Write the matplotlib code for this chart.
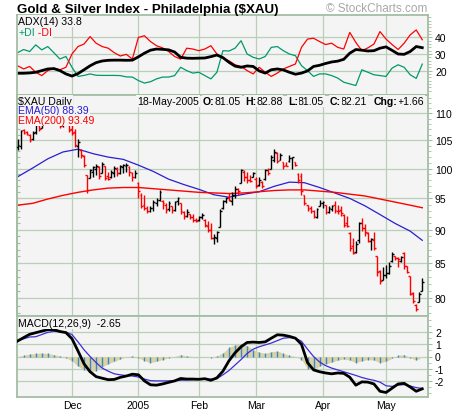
import numpy as np
import matplotlib
matplotlib.use("Agg")
import matplotlib.pyplot as plt
from matplotlib.ticker import FixedLocator, FixedFormatter, NullFormatter

plt.rcParams['font.family'] = ['Liberation Sans', 'DejaVu Sans']
plt.rcParams['axes.unicode_minus'] = False

# ---- daily bars, $XAU, Nov 2004 .. 18 May 2005 (one entry per trading day)
opens = [103.8, 104.0, 106.8, 106.5, 106.0, 105.2, 106.5, 107.8, 107.3, 108.8,
         108.4, 109.5, 109.2, 108.5, 108.6, 107.7, 108.4, 107.9, 107.0, 106.5,
         104.0, 103.3, 102.2, 98.9, 98.4, 99.5, 100.0, 100.2, 99.2, 100.4,
         98.8, 98.5, 99.3, 100.0, 99.2, 100.2, 100.4, 100.3, 99.2, 98.6,
         97.5, 95.6, 94.0, 93.5, 93.0, 93.4, 94.3, 94.8, 94.6, 94.0,
         93.3, 93.8, 93.2, 94.5, 94.2, 92.8, 92.2, 92.5, 92.0, 91.6,
         91.5, 92.0, 91.6, 90.6, 89.9, 88.8, 88.8, 90.4, 93.5, 94.5,
         95.2, 94.6, 95.5, 96.5, 97.6, 99.5, 98.5, 98.1, 98.6, 98.3,
         97.3, 97.8, 98.2, 99.8, 99.9, 101.5, 102.8, 101.5, 101.1, 100.6,
         101.3, 101.8, 101.1, 99.0, 98.8, 95.5, 93.9, 93.5, 93.0, 92.0,
         93.8, 94.3, 94.0, 92.8, 93.3, 94.0, 93.0, 93.2, 92.3, 91.0,
         89.5, 87.5, 86.6, 88.5, 91.0, 90.3, 89.5, 88.3, 88.5, 86.0,
         83.8, 82.6, 83.3, 83.6, 85.3, 86.0, 85.7, 85.3, 86.5, 84.5,
         83.2, 80.8, 79.1, 79.5, 81.05]
highs = [105.3, 106.9, 107.1, 106.6, 106.1, 106.6, 108.2, 107.9, 109.0, 109.5,
         109.8, 110.0, 109.6, 109.3, 108.8, 109.0, 108.9, 108.0, 107.7, 107.1,
         105.2, 103.4, 102.4, 98.9, 100.0, 100.5, 100.8, 100.4, 101.2, 100.5,
         99.4, 99.8, 100.4, 100.2, 100.6, 100.8, 101.0, 100.5, 99.5, 99.7,
         97.8, 95.9, 95.6, 93.8, 93.7, 94.7, 95.1, 96.4, 94.8, 94.3,
         94.6, 93.8, 94.6, 95.3, 94.3, 93.0, 93.3, 92.5, 92.5, 91.9,
         92.2, 92.7, 91.7, 91.4, 91.0, 89.4, 89.8, 93.3, 94.8, 95.3,
         95.9, 96.0, 97.0, 96.7, 100.0, 99.7, 99.4, 98.9, 99.4, 98.5,
         98.6, 97.9, 100.0, 100.1, 102.4, 103.5, 102.9, 102.7, 101.2, 101.2,
         102.4, 102.1, 101.2, 99.2, 99.2, 95.6, 94.0, 93.8, 93.2, 93.5,
         94.8, 94.6, 94.0, 93.8, 94.0, 94.6, 94.0, 93.8, 92.5, 92.2,
         89.6, 88.8, 88.3, 91.2, 91.8, 90.9, 89.6, 88.8, 89.6, 86.0,
         84.0, 84.4, 84.7, 85.2, 86.6, 86.1, 85.9, 86.0, 86.6, 84.6,
         83.2, 80.9, 79.2, 80.9, 82.88]
lows = [103.3, 103.5, 106.1, 106.0, 104.6, 105.0, 106.2, 106.7, 107.2, 108.0,
        108.3, 108.7, 108.2, 108.0, 107.2, 107.5, 107.8, 106.5, 106.0, 103.8,
        102.0, 101.8, 100.2, 95.9, 98.4, 98.6, 98.9, 98.2, 99.2, 98.0,
        98.0, 98.4, 98.6, 98.8, 99.0, 99.3, 99.5, 98.8, 97.9, 98.4,
        95.1, 93.5, 93.2, 92.7, 92.8, 92.9, 93.8, 94.6, 93.3, 92.7,
        93.0, 92.7, 93.0, 94.0, 92.5, 91.7, 92.0, 91.7, 91.2, 91.2,
        91.4, 91.7, 90.4, 89.6, 88.6, 87.8, 88.1, 90.4, 93.3, 94.3,
        94.6, 93.9, 95.1, 95.6, 97.6, 97.9, 97.6, 97.7, 98.5, 96.7,
        97.1, 96.7, 98.1, 98.9, 99.9, 101.2, 101.0, 101.5, 99.9, 100.4,
        101.2, 100.0, 100.4, 97.6, 95.6, 94.0, 93.0, 92.7, 91.9, 91.9,
        93.7, 93.5, 92.5, 92.7, 93.0, 92.7, 92.5, 92.2, 90.4, 90.4,
        86.8, 86.3, 86.5, 88.0, 89.8, 89.0, 88.2, 87.0, 87.0, 83.2,
        82.0, 82.5, 82.8, 83.4, 85.1, 85.5, 84.4, 85.1, 84.2, 83.5,
        80.4, 79.3, 78.3, 79.5, 81.05]
closes = [104.1, 106.6, 106.4, 106.2, 105.0, 106.4, 107.9, 107.0, 108.6, 108.4,
          109.4, 109.1, 108.5, 108.9, 107.6, 108.5, 108.1, 106.9, 106.3, 104.2,
          104.6, 102.3, 100.6, 96.4, 99.8, 100.2, 100.5, 98.8, 100.8, 98.4,
          98.3, 99.5, 100.1, 99.3, 100.4, 100.6, 100.7, 99.4, 98.5, 99.3,
          96.2, 93.8, 93.5, 93.0, 93.4, 94.4, 94.8, 96.0, 94.2, 93.1,
          94.2, 93.1, 94.4, 95.0, 92.9, 92.2, 92.8, 92.0, 91.6, 91.4,
          92.0, 92.4, 90.7, 90.0, 88.7, 88.9, 89.6, 93.0, 94.6, 95.1,
          94.8, 95.6, 96.5, 96.2, 99.7, 98.5, 98.1, 97.9, 99.2, 97.1,
          98.1, 97.0, 99.7, 99.2, 102.0, 102.9, 101.4, 102.3, 100.5, 100.4,
          101.8, 102.0, 100.6, 98.0, 96.2, 94.3, 93.3, 93.0, 92.2, 93.3,
          94.2, 94.4, 92.8, 93.5, 93.8, 93.2, 92.9, 92.6, 90.8, 90.6,
          87.2, 86.5, 87.9, 91.0, 90.3, 89.6, 88.3, 88.6, 87.2, 83.7,
          82.4, 83.3, 83.5, 84.6, 86.3, 85.8, 85.6, 85.9, 84.5, 83.7,
          80.6, 79.6, 78.6, 80.55, 82.21]

# moving averages read every 5 bars
ema_idx = [0, 5, 10, 15, 20, 25, 30, 35, 40, 45, 50, 55, 60, 65,
           70, 75, 80, 85, 90, 95, 100, 105, 110, 115, 120, 125, 130, 134]
ema50 = [98.6, 100.1, 101.7, 102.9, 103.4, 102.6, 102.0, 101.6, 100.6, 99.5,
         98.2, 97.3, 96.5, 95.6, 95.2, 95.7, 96.1, 97.0, 97.7, 97.6,
         96.8, 95.9, 95.0, 93.8, 92.4, 91.0, 89.8, 88.39]
ema200 = [93.9, 94.2, 94.9, 95.5, 96.0, 96.4, 96.7, 96.8, 96.8, 96.6,
          96.4, 96.2, 96.0, 95.9, 95.8, 95.9, 96.1, 96.3, 96.4, 96.4,
          96.2, 96.0, 95.7, 95.4, 94.9, 94.4, 93.9, 93.49]

# indicators read every 2 bars (bar 0, 2, ... 134)
ind_idx = list(range(0, 135, 2))
plus_di = [30.8, 32.7, 31.5, 35.5, 32.5, 34.5, 30.8, 27, 28.5, 22,
           16.5, 17.1, 18, 17.2, 17.1, 17.1, 17.1, 17, 16.2, 16.1,
           14, 12.5, 13.3, 15, 16.1, 16.1, 17, 22, 20, 18.5,
           19, 17, 15, 19, 32, 31.8, 33.5, 38, 30, 28,
           27, 28.5, 34, 34.5, 32, 30, 29, 23, 20, 16.5,
           18, 18, 17, 15.5, 13, 12, 11, 20.5, 19, 17.5,
           17, 16.5, 21.5, 23.5, 22, 17.5, 15.3, 23.9]
minus_di = [22.9, 21, 22.5, 19, 17, 20, 21.5, 20.5, 22, 30,
            34.5, 36, 40.5, 36.5, 34.5, 33.5, 30.8, 28.8, 29.8, 27,
            40, 41, 37.5, 35, 33.7, 31.5, 28.5, 26.9, 33.5, 33,
            32, 33, 35, 30, 27.5, 25.9, 23.5, 22.5, 20, 18,
            22, 19, 16.5, 18.5, 21, 22.5, 24, 34, 39, 39.5,
            37.5, 35.7, 36.5, 34, 33, 43, 37, 32, 33.7, 36,
            43.5, 39, 35.7, 32.7, 36.5, 41.5, 44.5, 38.6]
adx = [18.4, 18.4, 18.6, 19.0, 20.0, 21.0, 21.2, 20.0, 18.0, 16.7,
       18.2, 20.5, 22.9, 24.8, 25.8, 26.2, 26.3, 26.3, 26.2, 26.3,
       28.3, 30.5, 32.3, 33.0, 32.8, 32.5, 31.2, 28.0, 27.5, 27.4,
       27.5, 27.6, 28.4, 29.4, 27.8, 25.0, 22.7, 22.0, 22.8, 22.5,
       19.8, 18.5, 20.5, 21.0, 20.4, 19.0, 17.8, 18.5, 19.8, 22.5,
       23.2, 24.3, 25.2, 25.7, 26.8, 30.5, 32.7, 32.3, 31.8, 32.0,
       33.5, 34.3, 32.2, 30.0, 29.8, 31.5, 34.5, 33.8]
macd = [1.27, 1.55, 1.82, 1.95, 2.08, 2.2, 2.2, 2.05, 1.96, 1.46,
        0.45, -0.6, -1.25, -1.65, -1.78, -1.9, -1.88, -1.71, -1.6, -1.45,
        -1.5, -2.0, -2.32, -2.35, -2.25, -2.12, -2.0, -1.8, -1.85, -1.85,
        -1.87, -1.82, -1.95, -1.75, -1.2, -0.35, 0.3, 0.8, 1.15, 1.18,
        1.15, 1.2, 1.5, 1.78, 1.75, 1.65, 1.5, 1.0, -0.5, -1.1,
        -1.25, -1.35, -1.42, -1.35, -1.38, -1.7, -2.35, -2.08, -2.1, -2.25,
        -2.85, -2.95, -2.6, -2.25, -2.2, -2.5, -2.85, -2.65]
signal = [1.3, 1.45, 1.6, 1.62, 1.8, 1.98, 2.06, 2.03, 2.0, 1.8,
          1.2, 0.55, 0.0, -0.5, -0.95, -1.2, -1.42, -1.5, -1.57, -1.6,
          -1.68, -1.85, -1.98, -2.0, -2.0, -2.0, -1.98, -1.95, -1.92, -1.9,
          -1.88, -1.86, -1.85, -1.82, -1.5, -1.15, -0.7, -0.25, 0.25, 0.6,
          0.8, 0.95, 1.1, 1.3, 1.5, 1.55, 1.5, 1.25, 0.6, 0.0,
          -0.45, -0.75, -0.95, -1.1, -1.25, -1.4, -1.55, -1.72, -1.85, -1.95,
          -2.1, -2.4, -2.45, -2.35, -2.3, -2.42, -2.55, -2.62]
hist = [0.0, 0.1, 0.2, 0.25, 0.28, 0.25, 0.15, 0.05, -0.1, -0.35,
        -0.8, -1.1, -1.25, -1.15, -0.85, -0.6, -0.4, -0.2, -0.05, 0.05,
        -0.1, -0.35, -0.5, -0.4, -0.25, -0.1, 0.0, 0.15, 0.05, 0.0,
        0.0, 0.0, -0.1, 0.05, 0.3, 0.75, 0.95, 1.05, 0.9, 0.55,
        0.35, 0.25, 0.4, 0.45, 0.25, 0.1, 0.0, -0.25, -1.0, -1.1,
        -0.8, -0.6, -0.47, -0.3, -0.2, -0.3, -0.5, -0.35, -0.25, -0.3,
        -0.5, -0.4, -0.15, 0.1, 0.15, -0.1, -0.3, -0.05]

month_pos = [18, 40, 60, 79, 101, 122]
month_names = ["Dec", "2005", "Feb", "Mar", "Apr", "May"]
price_ticks = [80, 85, 90, 95, 100, 105, 110]
adx_ticks = [20, 30, 40]
macd_ticks = [-2, -1, 0, 1, 2]

W, H = 460, 414
BG = "#f4f4f4"
GRID = "#b9cfb9"
FRAME = "#a4bea4"

fig = plt.figure(figsize=(W / 100, H / 100), dpi=100)


def box(top, bottom, left=17, right=428):
    return [left / W, 1 - bottom / H, (right - left) / W, (bottom - top) / H]


def fx(x):
    return x / W


def fy(y):
    return 1 - y / H


ax_adx = fig.add_axes(box(16, 96))
ax_px = fig.add_axes(box(96, 317), sharex=ax_adx)
ax_macd = fig.add_axes(box(317, 398), sharex=ax_adx)

for ax in (ax_adx, ax_px, ax_macd):
    ax.set_facecolor(BG)
    for sp in ax.spines.values():
        sp.set_color(FRAME)
        sp.set_linewidth(1.3)
    ax.grid(True, which='major', color=GRID, lw=0.9)
    ax.set_axisbelow(True)
    ax.yaxis.tick_right()
    ax.tick_params(axis='y', which='both', direction='out', color=FRAME,
                   labelsize=7.5, pad=2)
    ax.tick_params(axis='y', which='major', length=3)
    ax.tick_params(axis='y', which='minor', length=2)
    ax.tick_params(axis='x', length=0, labelbottom=False)

idx = np.arange(len(closes))
ax_adx.set_xticks(month_pos)
ax_adx.set_xlim(-0.2, 135.9)

# ---- ADX panel
ax_adx.plot(ind_idx, plus_di, color="#00996b", lw=0.9)
ax_adx.plot(ind_idx, minus_di, color="#ff0000", lw=0.9)
ax_adx.plot(ind_idx, adx, color="black", lw=2.0)
ax_adx.set_ylim(5.3, 53.5)
ax_adx.yaxis.set_major_locator(FixedLocator(adx_ticks))
ax_adx.yaxis.set_minor_locator(FixedLocator(np.arange(8, 54, 2)))

# ---- price panel
bar_colors = ["black"] + ["red" if c < p else "black"
                          for p, c in zip(closes[:-1], closes[1:])]
ax_px.plot(ema_idx, ema50, color="#2a1ed0", lw=0.9, zorder=2)
ax_px.plot(ema_idx, ema200, color="#ff0000", lw=1.0, zorder=2)
ax_px.vlines(idx, lows, highs, colors=bar_colors, lw=1.0, zorder=3)
ax_px.hlines(opens, idx - 0.6, idx, colors=bar_colors, lw=1.0, zorder=3)
ax_px.hlines(closes, idx, idx + 0.6, colors=bar_colors, lw=1.0, zorder=3)
ax_px.set_yscale('log')
ax_px.set_ylim(77.6, 113.5)
ax_px.yaxis.set_major_locator(FixedLocator(price_ticks))
ax_px.yaxis.set_major_formatter(FixedFormatter([str(t) for t in price_ticks]))
ax_px.yaxis.set_minor_locator(FixedLocator(np.arange(78, 114)))
ax_px.yaxis.set_minor_formatter(NullFormatter())
left_ticks = ax_px.secondary_yaxis('left')
left_ticks.yaxis.set_major_locator(FixedLocator(np.arange(78, 114)))
left_ticks.yaxis.set_major_formatter(NullFormatter())
left_ticks.yaxis.set_minor_locator(FixedLocator([]))
left_ticks.tick_params(direction='in', length=2, color=FRAME)
left_ticks.spines['left'].set_color(FRAME)
left_ticks.spines['left'].set_linewidth(1.3)

# ---- MACD panel
ax_macd.fill_between(ind_idx, 0, hist, color="#d8d2a4", lw=0, zorder=2)
ax_macd.vlines(ind_idx, 0, hist, colors="#3d86c8", lw=1.0, zorder=2)
ax_macd.plot(ind_idx, signal, color="#3b2fd6", lw=0.9, zorder=3)
ax_macd.plot(ind_idx, macd, color="black", lw=2.0, zorder=4)
ax_macd.set_ylim(-3.32, 3.32)
ax_macd.yaxis.set_major_locator(FixedLocator(macd_ticks))
ax_macd.yaxis.set_minor_locator(FixedLocator(np.arange(-3, 3.01, 0.5)))
ax_macd.tick_params(axis='x', labelbottom=True, labelsize=7.5, pad=2)
ax_macd.set_xticklabels(month_names)

# ---- texts
fig.text(fx(17), fy(9.5), "Gold & Silver Index - Philadelphia ($XAU)",
         fontsize=9.6, fontweight='bold', ha='left', va='center')
fig.text(fx(427), fy(9), "\u00a9 StockCharts.com", fontsize=8.5,
         color="#a8a8a8", ha='right', va='center')

FS = 7.6
lab = dict(fontsize=FS, va='center', ha='left')
pad_box = dict(facecolor=BG, edgecolor='none', pad=0.6)


def after(t, s, col="black", wt='normal'):
    return ax_px.annotate(s, xy=(1, 0.5), xycoords=t, va='center', ha='left',
                          fontsize=FS, color=col, fontweight=wt,
                          bbox=pad_box, annotation_clip=False)


fig.text(fx(18.5), fy(22), "ADX(14) %.1f" % adx[-1], bbox=pad_box, **lab)
t = fig.text(fx(18.5), fy(33), "+DI", color="#00996b", bbox=pad_box, **lab)
after(t, " -DI", "#ff0000")

fig.text(fx(18.5), fy(102), "$XAU Daily", bbox=pad_box, **lab)
fig.text(fx(137), fy(102), "18-May-2005", bbox=pad_box, **lab)
last = [("O:", opens[-1], 203), ("H:", highs[-1], 245), ("L:", lows[-1], 288),
        ("C:", closes[-1], 330)]
for name, val, xp in last:
    t = fig.text(fx(xp), fy(102), name, fontweight='bold', bbox=pad_box, **lab)
    after(t, "%.2f" % val)
t = fig.text(fx(374), fy(102), "Chg:", fontweight='bold', bbox=pad_box, **lab)
after(t, "%+.2f" % (closes[-1] - closes[-2]))

fig.text(fx(18.5), fy(111.5), "EMA(50) %.2f" % ema50[-1], color="#2a1ed0",
         bbox=pad_box, **lab)
fig.text(fx(18.5), fy(121.5), "EMA(200) %.2f" % ema200[-1], color="#ff0000",
         bbox=pad_box, **lab)
fig.text(fx(18.5), fy(324), "MACD(12,26,9)  %.2f" % macd[-1], bbox=pad_box, **lab)

fig.savefig("out.png", dpi=100, facecolor="white")
